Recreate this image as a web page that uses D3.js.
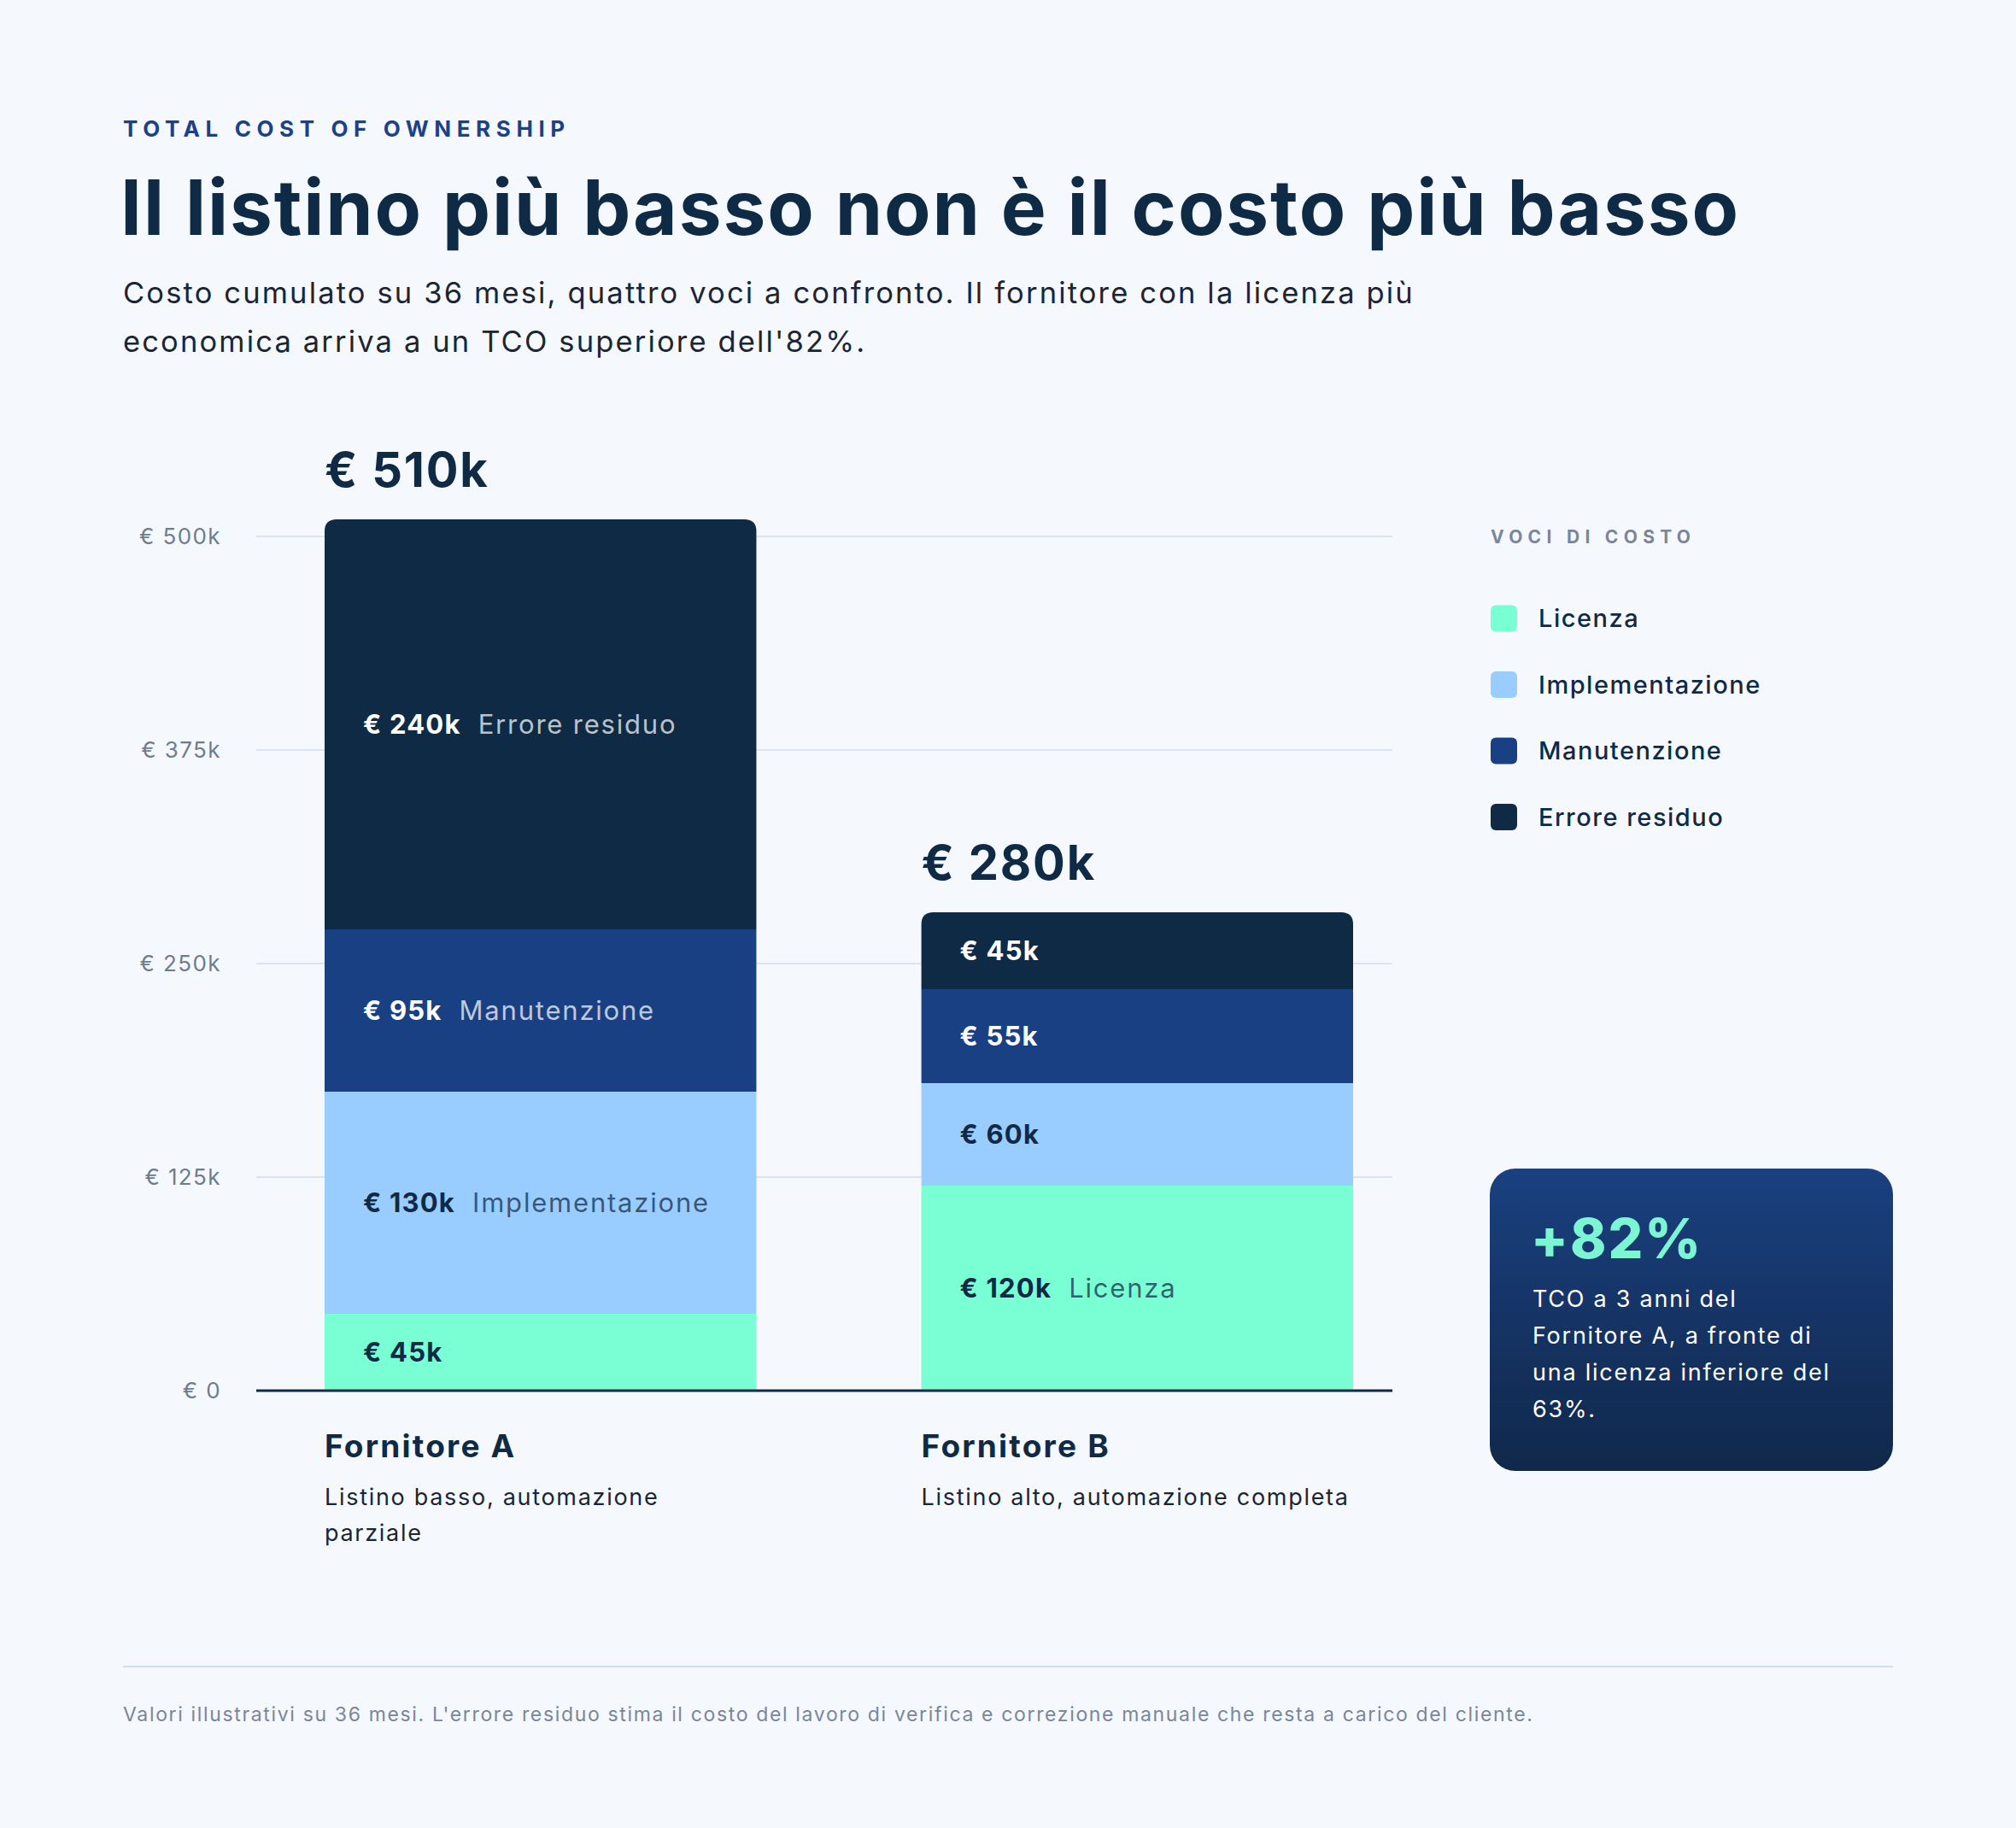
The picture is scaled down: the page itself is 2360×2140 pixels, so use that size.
<!DOCTYPE html>
<html>
<head>
<meta charset="utf-8">
<script src="https://cdn.jsdelivr.net/npm/d3@7"></script>
<style>
  html, body { margin: 0; padding: 0; background: #f5f9fd; }
  svg { display: block; }
  text { font-family: Inter, Lato, "Noto Sans", sans-serif; }
</style>
</head>
<body>
<svg id="chart" width="2360" height="2140"></svg>
<script>
// ---------- DATA ----------
const categories = ["Fornitore A", "Fornitore B"];
const descriptions = ["Listino basso, automazione parziale", "Listino alto, automazione completa"];
const costItems = ["Licenza", "Implementazione", "Manutenzione", "Errore residuo"];
// values in thousands of euro
const licenza = [45, 120];
const implementazione = [130, 60];
const manutenzione = [95, 55];
const erroreResiduo = [240, 45];
const yTicks = [0, 125, 250, 375, 500];
const itemColors = ["#7affd4", "#99ccff", "#1a4084", "#0f2a45"];
const eyebrow = "TOTAL COST OF OWNERSHIP";
const title = "Il listino più basso non è il costo più basso";
const subtitleLines = [
  "Costo cumulato su 36 mesi, quattro voci a confronto. Il fornitore con la licenza più",
  "economica arriva a un TCO superiore dell'82%."
];
const legendTitle = "VOCI DI COSTO";
const calloutValue = "+82%";
const calloutLines = ["TCO a 3 anni del", "Fornitore A, a fronte di", "una licenza inferiore del", "63%."];
const footnote = "Valori illustrativi su 36 mesi. L'errore residuo stima il costo del lavoro di verifica e correzione manuale che resta a carico del cliente.";

// ---------- SETUP ----------
const svg = d3.select("#chart");
const dark = "#0f2a45";
svg.append("rect").attr("width", 2360).attr("height", 2140).attr("fill", "#f5f9fd");

// header
svg.append("text").attr("x", 144).attr("y", 160)
  .attr("font-size", 26).attr("font-weight", 700).attr("letter-spacing", 6.6)
  .attr("fill", "#1b418a").text(eyebrow);
svg.append("text").attr("x", 141).attr("y", 275)
  .attr("font-size", 89).attr("font-weight", 700).attr("letter-spacing", 1.9)
  .attr("fill", dark).text(title);
svg.append("text").attr("font-size", 34.5).attr("fill", "#1c2533").attr("letter-spacing", 2.15)
  .selectAll("tspan").data(subtitleLines).join("tspan")
  .attr("x", 144).attr("y", (d, i) => 355 + i * 57).text(d => d);

// ---------- SCALES ----------
const y = d3.scaleLinear().domain([0, 500]).range([1628, 628]);
const x = d3.scaleBand().domain(categories).range([380, 1584]).paddingInner(0.2765).paddingOuter(0);
const color = d3.scaleOrdinal().domain(costItems).range(itemColors);
const gridX0 = 300, gridX1 = 1630;

// grid
const grid = svg.append("g");
grid.selectAll("line").data(yTicks.filter(t => t > 0)).join("line")
  .attr("x1", gridX0).attr("x2", gridX1)
  .attr("y1", d => y(d)).attr("y2", d => y(d))
  .attr("stroke", "#dce4ef").attr("stroke-width", 2);

// y axis labels via d3 axis
const yAxis = d3.axisLeft(y).tickValues(yTicks).tickSize(0).tickPadding(0)
  .tickFormat(d => d === 0 ? "€ 0" : `€ ${d}k`);
const ya = svg.append("g").attr("transform", "translate(259,0)").call(yAxis);
ya.select(".domain").remove();
ya.selectAll("text").attr("font-size", 26).attr("fill", "#6f7c8f").attr("letter-spacing", 1.4)
  .attr("font-family", "Inter, Lato, sans-serif");

// ---------- STACK ----------
const rows = categories.map((c, i) => ({
  cat: c,
  "Licenza": licenza[i],
  "Implementazione": implementazione[i],
  "Manutenzione": manutenzione[i],
  "Errore residuo": erroreResiduo[i]
}));
const series = d3.stack().keys(costItems)(rows);
const topKey = costItems[costItems.length - 1];

function topRounded(x0, y0, w, h, r) {
  return `M${x0},${y0 + h} L${x0},${y0 + r} Q${x0},${y0} ${x0 + r},${y0} L${x0 + w - r},${y0} Q${x0 + w},${y0} ${x0 + w},${y0 + r} L${x0 + w},${y0 + h} Z`;
}

const bars = svg.append("g");
series.forEach(s => {
  bars.selectAll(null).data(s).join("path")
    .attr("fill", color(s.key))
    .attr("d", d => {
      const x0 = x(d.data.cat), w = x.bandwidth();
      const yt = y(d[1]), yb = y(d[0]);
      const r = s.key === topKey ? 14 : 0;
      return topRounded(x0, yt, w, yb - yt, r);
    });
});

// segment labels
const darkItems = ["Manutenzione", "Errore residuo"];
series.forEach(s => {
  s.forEach(d => {
    const isDark = darkItems.includes(s.key);
    const v = d[1] - d[0];
    const cy = (y(d[0]) + y(d[1])) / 2;
    const t = bars.append("text")
      .attr("x", x(d.data.cat) + 45).attr("y", cy).attr("dy", "0.36em")
      .attr("font-size", 31);
    t.append("tspan").attr("font-weight", 700).attr("letter-spacing", 1.2)
      .attr("fill", isDark ? "#ffffff" : dark).text(`€ ${v}k`);
    if (v >= 80) {
      t.append("tspan").attr("dx", 20).attr("font-weight", 400).attr("letter-spacing", 1.8)
        .attr("fill", isDark ? "#ffffff" : dark)
        .attr("fill-opacity", 0.72)
        .text(s.key);
    }
  });
});

// baseline
svg.append("line").attr("x1", gridX0).attr("x2", gridX1)
  .attr("y1", y(0)).attr("y2", y(0)).attr("stroke", dark).attr("stroke-width", 3);

// totals
const totals = rows.map(r => costItems.reduce((a, k) => a + r[k], 0));
svg.append("g").selectAll("text").data(categories).join("text")
  .attr("x", d => x(d)).attr("y", (d, i) => y(totals[i]) - 38)
  .attr("font-size", 56).attr("font-weight", 700).attr("letter-spacing", 1.8)
  .attr("fill", dark).text((d, i) => `€ ${totals[i]}k`);

// category labels
svg.append("g").selectAll("text").data(categories).join("text")
  .attr("x", d => x(d)).attr("y", 1706)
  .attr("font-size", 37).attr("font-weight", 700).attr("letter-spacing", 2.2)
  .attr("fill", dark).text(d => d);

function wrapText(sel, width, lineHeight) {
  sel.each(function() {
    const t = d3.select(this);
    const words = t.text().split(/\s+/);
    const x0 = t.attr("x"), y0 = +t.attr("y");
    t.text(null);
    let line = [], lineNo = 0;
    let tspan = t.append("tspan").attr("x", x0).attr("y", y0);
    words.forEach(w => {
      line.push(w);
      tspan.text(line.join(" "));
      if (tspan.node().getComputedTextLength() > width && line.length > 1) {
        line.pop();
        tspan.text(line.join(" "));
        line = [w];
        lineNo++;
        tspan = t.append("tspan").attr("x", x0).attr("y", y0 + lineNo * lineHeight).text(w);
      }
    });
  });
}
svg.append("g").selectAll("text").data(categories).join("text")
  .attr("x", d => x(d)).attr("y", 1762)
  .attr("font-size", 27).attr("letter-spacing", 1.7).attr("fill", "#1c2533")
  .text((d, i) => descriptions[i])
  .call(wrapText, x.bandwidth(), 42);

// ---------- LEGEND ----------
const lg = svg.append("g");
lg.append("text").attr("x", 1745).attr("y", 636)
  .attr("font-size", 21).attr("font-weight", 700).attr("letter-spacing", 6.3)
  .attr("fill", "#7a8699").text(legendTitle);
const li = lg.selectAll("g.item").data(costItems).join("g")
  .attr("transform", (d, i) => `translate(1745,${724 + i * 77.5})`);
li.append("rect").attr("x", 0).attr("y", -15.5).attr("width", 31).attr("height", 31)
  .attr("rx", 6).attr("fill", d => color(d));
li.append("text").attr("x", 56).attr("dy", "0.36em")
  .attr("font-size", 29).attr("font-weight", 500).attr("letter-spacing", 1.5)
  .attr("fill", dark).text(d => d);

// ---------- CALLOUT ----------
const defs = svg.append("defs");
const grad = defs.append("linearGradient").attr("id", "cg")
  .attr("x1", 0).attr("y1", 0).attr("x2", 0).attr("y2", 1);
grad.append("stop").attr("offset", "0%").attr("stop-color", "#1a4080");
grad.append("stop").attr("offset", "100%").attr("stop-color", "#10284a");
const cb = svg.append("g");
cb.append("rect").attr("x", 1744).attr("y", 1368).attr("width", 472).attr("height", 354)
  .attr("rx", 30).attr("fill", "url(#cg)");
cb.append("text").attr("x", 1792).attr("y", 1473)
  .attr("font-size", 64).attr("font-weight", 800).attr("letter-spacing", 2)
  .attr("fill", "#7cf5d2").text(calloutValue);
cb.append("text").attr("font-size", 27).attr("letter-spacing", 1.75).attr("fill", "#ffffff")
  .selectAll("tspan").data(calloutLines).join("tspan")
  .attr("x", 1794).attr("y", (d, i) => 1530 + i * 43).text(d => d);

// ---------- FOOTER ----------
svg.append("line").attr("x1", 144).attr("x2", 2216).attr("y1", 1951).attr("y2", 1951)
  .attr("stroke", "#d3deeb").attr("stroke-width", 2);
svg.append("text").attr("x", 144).attr("y", 2015)
  .attr("font-size", 23).attr("letter-spacing", 1.65).attr("fill", "#7a8699").text(footnote);
</script>
</body>
</html>
